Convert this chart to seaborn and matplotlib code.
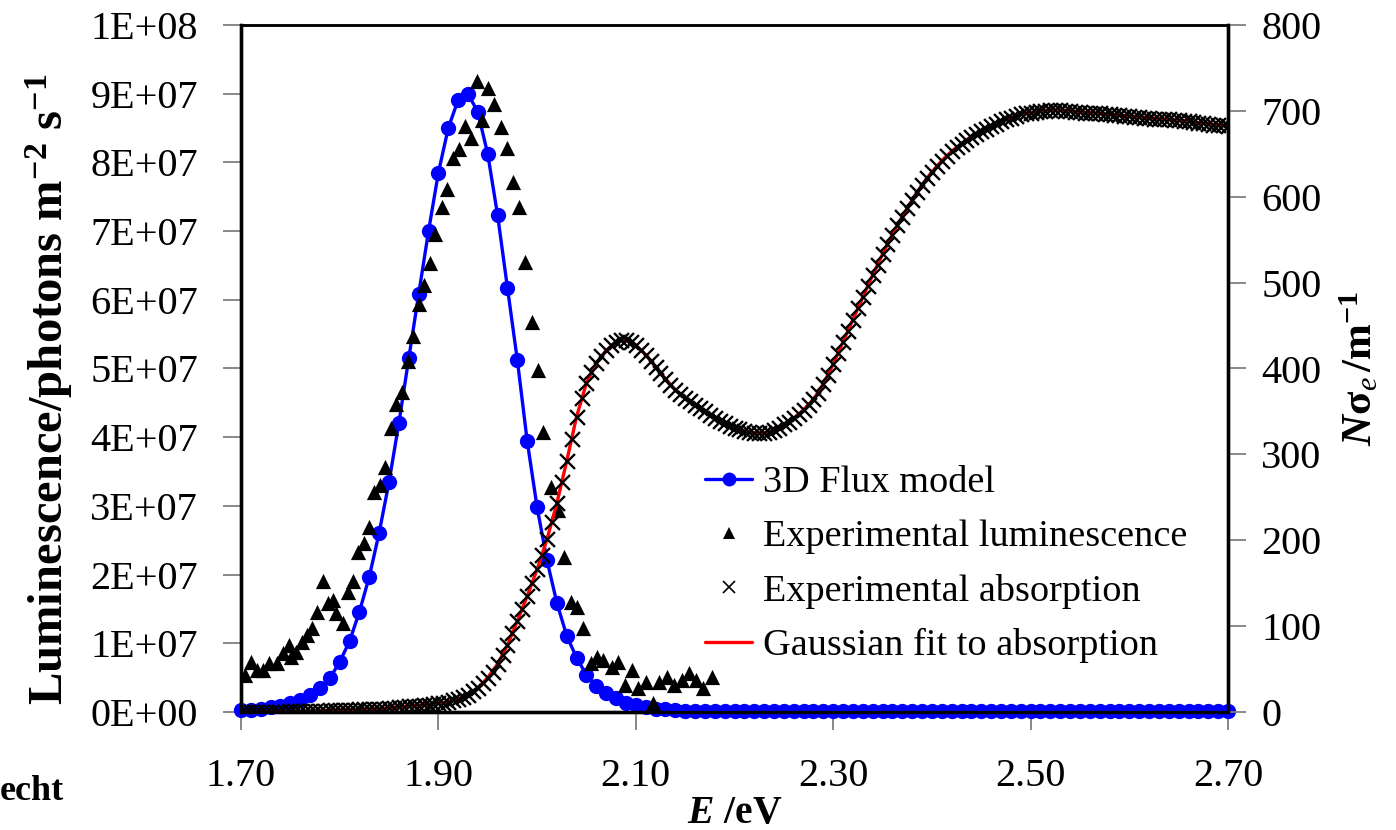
import numpy as np
import matplotlib
matplotlib.use("Agg")
import matplotlib.pyplot as plt
import seaborn as sns
from matplotlib.lines import Line2D

# ---------------- data ----------------
# 3D Flux model (luminescence, photons m^-2 s^-1, in units of 1E+07), 0.01 eV grid 1.70..2.70
model_E = np.linspace(1.70, 2.70, 101)
model_lum = [0.03, 0.03, 0.05, 0.07, 0.09, 0.13, 0.17, 0.25, 0.35, 0.49,
             0.73, 1.03, 1.46, 1.97, 2.61, 3.35, 4.21, 5.15, 6.08, 7.00,
             7.85, 8.50, 8.91, 9.00, 8.73, 8.12, 7.23, 6.17, 5.12, 3.94,
             2.98, 2.21, 1.59, 1.11, 0.79, 0.54, 0.38, 0.28, 0.20, 0.13,
             0.10, 0.07, 0.05, 0.04, 0.03, 0.02, 0.02, 0.01, 0.01, 0.01,
             0.01, 0.01, 0.01, 0.01, 0.01, 0.01, 0.01, 0.01, 0.01, 0.01,
             0.01, 0.01, 0.01, 0.01, 0.01, 0.01, 0.01, 0.01, 0.01, 0.01,
             0.01, 0.01, 0.01, 0.01, 0.01, 0.01, 0.01, 0.01, 0.01, 0.01,
             0.01, 0.01, 0.01, 0.01, 0.01, 0.01, 0.01, 0.01, 0.01, 0.01,
             0.01, 0.01, 0.01, 0.01, 0.01, 0.01, 0.01, 0.01, 0.01, 0.01,
             0.01]

# Experimental luminescence (units of 1E+07)
lum_E = [1.704, 1.710, 1.716, 1.722, 1.728, 1.736, 1.743, 1.749, 1.751, 1.756,
         1.762, 1.767, 1.772, 1.777, 1.783, 1.788, 1.793, 1.796, 1.803, 1.808,
         1.813, 1.819, 1.825, 1.830, 1.835, 1.841, 1.846, 1.852, 1.857, 1.863,
         1.869, 1.874, 1.880, 1.885, 1.891, 1.897, 1.904, 1.909, 1.915, 1.921,
         1.927, 1.933, 1.939, 1.944, 1.950, 1.956, 1.963, 1.970, 1.976, 1.982,
         1.988, 1.995, 2.001, 2.006, 2.014, 2.021, 2.027, 2.034, 2.040, 2.047,
         2.055, 2.061, 2.067, 2.076, 2.082, 2.089, 2.096, 2.102, 2.110, 2.117,
         2.124, 2.132, 2.139, 2.147, 2.154, 2.161, 2.168, 2.177]
lum_val = [0.54, 0.73, 0.61, 0.61, 0.71, 0.71, 0.86, 0.98, 0.80, 0.87,
           1.02, 1.12, 1.22, 1.46, 1.91, 1.59, 1.63, 1.44, 1.30, 1.75,
           1.91, 2.33, 2.46, 2.69, 3.20, 3.30, 3.57, 4.13, 4.48, 4.66,
           5.11, 5.47, 5.94, 6.22, 6.54, 6.96, 7.35, 7.61, 8.06, 8.20,
           8.53, 8.36, 9.18, 8.62, 9.08, 8.85, 8.52, 8.21, 7.71, 7.35,
           6.55, 5.68, 4.98, 4.08, 3.28, 2.94, 2.26, 1.60, 1.53, 1.22,
           0.71, 0.80, 0.76, 0.66, 0.73, 0.39, 0.61, 0.35, 0.44, 0.13,
           0.44, 0.51, 0.39, 0.47, 0.57, 0.47, 0.35, 0.51]

# Experimental absorption N*sigma_e (m^-1), 0.005 eV grid 1.700..2.700
abs_E = np.linspace(1.70, 2.70, 201)
abs_val = [0, 0, 0, 0, 0, 0, 0.5, 0.5, 0.5, 0.5, 1, 1, 1, 1, 1, 1.5, 1.5, 1.5, 2, 2, 2,
           2, 2.5, 2.5, 3, 3, 3.5, 3.5, 4, 4, 4.5, 5, 5.5, 6, 6.5, 7, 7.5, 8, 8.5, 9, 10,
           11, 12, 14, 15, 17, 20, 24, 28, 34, 40,
           47, 56, 66, 78, 92, 106, 120, 135, 150, 166,
           183, 201, 221, 243, 268, 292, 318, 344, 366, 383,
           396, 406, 414, 421, 427, 431, 433, 433, 431, 427,
           422, 416, 409, 402, 395, 388, 381, 375, 370, 366,
           362, 358, 354, 350, 346, 342, 339, 336, 333, 331,
           329, 327, 326, 325, 325, 325, 326, 328, 331, 335,
           338, 342, 347, 352, 358, 364, 372, 382, 393, 405,
           418, 431, 444, 457, 470, 483, 496, 509, 521, 533,
           545, 556, 567, 577, 587, 596, 605, 614, 622, 629,
           636, 642, 648, 653, 658, 662, 666, 670, 673, 676,
           679, 682, 685, 688, 690, 692, 694, 696, 697, 698,
           699, 700, 700, 701, 701, 701, 700, 700, 699, 699,
           698, 698, 697, 697, 696, 696, 695, 695, 694, 694,
           693, 693, 692, 692, 691, 691, 690, 690, 689, 689,
           688, 688, 687, 686, 686, 685, 684, 684, 683, 682]

# Gaussian fit to absorption, 0.01 eV grid
fit_E = np.linspace(1.70, 2.70, 101)
fit_val = [0, 0, 0, 0.5, 0.5, 1, 1, 1, 1.5, 2,
           2, 2.5, 3, 3.5, 4, 5, 6, 7, 8, 9,
           10, 12, 15, 20, 28, 40, 56, 78, 106, 135,
           166, 201, 243, 292, 344, 383, 406, 421, 431, 433,
           427, 416, 402, 388, 375, 366, 358, 350, 342, 336,
           331, 327, 325, 325, 328, 335, 342, 352, 364, 382,
           405, 431, 457, 483, 509, 533, 556, 577, 596, 614,
           629, 642, 653, 662, 670, 676, 682, 688, 692, 696,
           698, 700, 701, 701, 700, 699, 698, 697, 696, 695,
           694, 693, 692, 691, 690, 689, 688, 686, 685, 684,
           682]

x_ticks = [1.70, 1.90, 2.10, 2.30, 2.50, 2.70]
x_ticklabels = ["1.70", "1.90", "2.10", "2.30", "2.50", "2.70"]
left_ticks = [0, 1, 2, 3, 4, 5, 6, 7, 8, 9, 10]
left_ticklabels = ["0E+00", "1E+07", "2E+07", "3E+07", "4E+07", "5E+07",
                   "6E+07", "7E+07", "8E+07", "9E+07", "1E+08"]
right_ticks = [0, 100, 200, 300, 400, 500, 600, 700, 800]
series_labels = ["3D Flux model", "Experimental luminescence",
                 "Experimental absorption", "Gaussian fit to absorption"]

# ---------------- style ----------------
sns.set_theme(style="white")
plt.rcParams["font.family"] = ["Liberation Serif", "DejaVu Serif"]
plt.rcParams["text.color"] = "black"
plt.rcParams["axes.labelcolor"] = "black"
plt.rcParams["xtick.color"] = "black"
plt.rcParams["ytick.color"] = "black"
plt.rcParams["mathtext.fontset"] = "custom"
plt.rcParams["mathtext.rm"] = "Liberation Serif"
plt.rcParams["mathtext.it"] = "Liberation Serif:italic"
plt.rcParams["mathtext.bf"] = "Liberation Serif:bold"
plt.rcParams["mathtext.bfit"] = "Liberation Serif:bold:italic"

fig = plt.figure(figsize=(13.96, 8.30), dpi=100)
ax = fig.add_axes([241 / 1396, 1 - 712 / 830, 987 / 1396, 687 / 830])

sns.lineplot(x=model_E, y=model_lum, ax=ax, color="#0000FF", marker="o",
             markersize=11, markeredgewidth=0, linewidth=2.4, clip_on=False,
             legend=False, zorder=3)
sns.scatterplot(x=lum_E, y=lum_val, ax=ax, marker="^", color="black", s=120,
                linewidth=0, legend=False, zorder=4)

ax.set_xlim(1.70, 2.70)
ax.set_ylim(0, 10)
ax.set_xticks(x_ticks)
ax.set_xticklabels(x_ticklabels, fontsize=29)
ax.set_yticks(left_ticks)
ax.set_yticklabels(left_ticklabels, fontsize=29)
ax.tick_params(axis="both", direction="out", length=13, width=1.3,
               color="#7f7f7f", labelcolor="black", left=True, bottom=True)
ax.tick_params(axis="y", pad=18)
ax.tick_params(axis="x", pad=20)

ax2 = ax.twinx()
sns.lineplot(x=fit_E, y=fit_val, ax=ax2, color="#FF0000", linewidth=2.4,
             legend=False, zorder=2)
sns.scatterplot(x=abs_E, y=abs_val, ax=ax2, marker="x", color="black", s=115,
                linewidth=1.7, legend=False, zorder=3)
ax2.set_ylim(0, 800)
ax2.set_yticks(right_ticks)
ax2.set_yticklabels([str(t) for t in right_ticks], fontsize=29)
ax2.tick_params(axis="y", direction="out", length=13, width=1.3,
                color="#7f7f7f", labelcolor="black", right=True, pad=11)

for a in (ax, ax2):
    for s in a.spines.values():
        s.set_color("black")
        s.set_linewidth(2.4)
    a.spines["top"].set_linewidth(1.8)
    a.grid(False)

ax.set_xlabel(r"$\mathbfit{E}$ /eV", fontsize=28.5, fontweight="bold", labelpad=0)
ax.set_ylabel(r"Luminescence/photons m$^{\mathbf{-2}}$ s$^{\mathbf{-1}}$",
              fontsize=35, fontweight="bold")
ax.yaxis.set_label_coords(-0.168, 0.47)
ax2.set_ylabel(r"$\mathbfit{N}\mathbf{\sigma}_{\mathit{e}}\,\mathbf{/m}^{\mathbf{-1}}$",
               fontsize=31, fontweight="bold", labelpad=12)

handles = [
    Line2D([], [], color="#0000FF", marker="o", markersize=10, linewidth=2.4,
           markeredgewidth=0),
    Line2D([], [], color="black", marker="^", markersize=9, linestyle="none",
           markeredgewidth=0),
    Line2D([], [], color="black", marker="x", markersize=8, linestyle="none",
           markeredgewidth=1.2),
    Line2D([], [], color="#FF0000", linewidth=2.4),
]
ax2.legend(handles, series_labels, loc="upper left", bbox_to_anchor=(0.47, 0.359),
           frameon=False, fontsize=27.5, handlelength=1.24, handletextpad=0.27,
           labelspacing=0.51, borderaxespad=0, borderpad=0)

fig.text(0.0, 0.036, "echt", fontsize=26, fontweight="bold", ha="left",
         va="baseline")

fig.savefig("out.png", dpi=100)
